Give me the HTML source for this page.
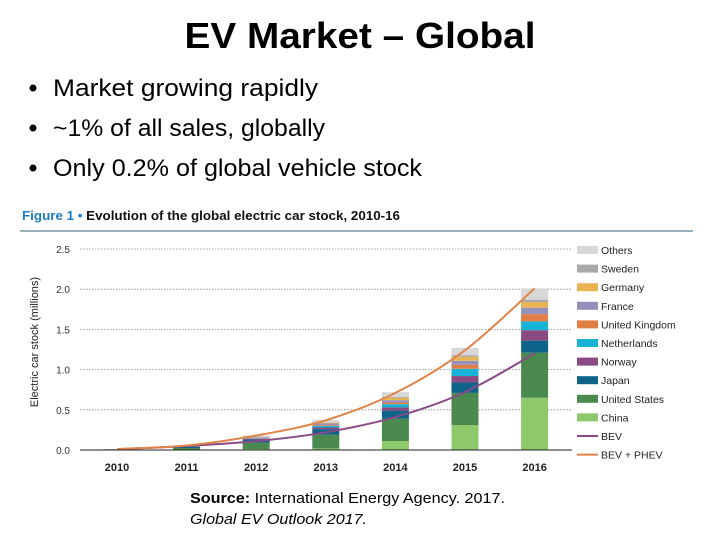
<!DOCTYPE html>
<html><head><meta charset="utf-8"><style>
html,body{margin:0;padding:0;background:#fff;}
svg{display:block;font-family:"Liberation Sans",sans-serif;}
</style></head><body>
<svg id="page" width="720" height="540" viewBox="0 0 720 540">
<text x="360" y="48" text-anchor="middle" font-size="36" font-weight="bold" textLength="351" lengthAdjust="spacingAndGlyphs">EV Market – Global</text>
<g font-size="24" fill="#000">
<circle cx="33" cy="88" r="3.5"/><text x="53" y="96" textLength="265" lengthAdjust="spacingAndGlyphs">Market growing rapidly</text>
<circle cx="33" cy="128" r="3.5"/><text x="53" y="136" textLength="272" lengthAdjust="spacingAndGlyphs">~1% of all sales, globally</text>
<circle cx="33" cy="168" r="3.5"/><text x="53" y="176" textLength="369" lengthAdjust="spacingAndGlyphs">Only 0.2% of global vehicle stock</text>
</g>
<text x="22" y="220" font-size="13" font-weight="bold" textLength="378" lengthAdjust="spacingAndGlyphs"><tspan fill="#1f7cc0">Figure 1 •</tspan><tspan fill="#111"> Evolution of the global electric car stock, 2010-16</tspan></text>
<line x1="20" y1="231" x2="693" y2="231" stroke="#5f7f92" stroke-width="1.2"/>
<text transform="translate(38,342) rotate(-90)" text-anchor="middle" font-size="11" fill="#222">Electric car stock (millions)</text>
<g id="grid"></g><g id="bars"></g><g id="lines"></g><g id="axes"></g><g id="legend"></g>
<text x="190" y="503" font-size="15" textLength="315" lengthAdjust="spacingAndGlyphs"><tspan font-weight="bold">Source:</tspan> International Energy Agency. 2017.</text>
<text x="190" y="524" font-size="15" font-style="italic" textLength="177" lengthAdjust="spacingAndGlyphs">Global EV Outlook 2017.</text>
</svg>
<script>
const years=["2010","2011","2012","2013","2014","2015","2016"];
const yTicks=[0,0.5,1,1.5,2,2.5];
const china=[0.002,0.005,0.01,0.02,0.11,0.31,0.65];
const us=[0.004,0.02,0.08,0.17,0.28,0.40,0.56];
const japan=[0.003,0.015,0.04,0.07,0.10,0.13,0.15];
const norway=[0.001,0.003,0.01,0.02,0.04,0.08,0.13];
const netherlands=[0,0.001,0.005,0.02,0.04,0.09,0.11];
const uk=[0,0.001,0.005,0.01,0.02,0.05,0.09];
const france=[0,0.003,0.01,0.02,0.03,0.05,0.08];
const germany=[0,0.002,0.005,0.01,0.03,0.05,0.07];
const sweden=[0,0.001,0.002,0.005,0.01,0.02,0.03];
const others=[0.002,0.005,0.015,0.03,0.06,0.09,0.14];
const bev=[0.01,0.05,0.11,0.22,0.41,0.72,1.2];
const bevPhev=[0.012,0.056,0.18,0.37,0.71,1.24,2.01];
const seriesNames=["China","United States","Japan","Norway","Netherlands","United Kingdom","France","Germany","Sweden","Others"];
const seriesData=[china,us,japan,norway,netherlands,uk,france,germany,sweden,others];
const colors=["#8dc86a","#4a8a4e","#0d6388","#8c4a82","#17b3d6","#e07e45","#9590bb","#e9b553","#a7a8aa","#d8d8d8"];
const NS="http://www.w3.org/2000/svg";
const x0=80,x1=572,yBase=450,yTop=249,yMax=2.5;
const y=v=>yBase-(v/yMax)*(yBase-yTop);
const step=69.6,xc=i=>117+i*step,bw=27;
function mk(t,a,p){const e=document.createElementNS(NS,t);for(const k in a)e.setAttribute(k,a[k]);p.appendChild(e);return e;}
const grid=document.getElementById('grid');
yTicks.forEach(t=>{
 if(t>0){const l=mk('line',{x1:x0,x2:x1,y1:y(t),y2:y(t),stroke:'#888','stroke-width':0.8,'stroke-dasharray':'1.5,1.5'},grid);
 
 }
 const tx=mk('text',{x:70,y:y(t)+4,'text-anchor':'end','font-size':10,fill:'#333'},grid);tx.textContent=t.toFixed(1);
 
 
});
const bars=document.getElementById('bars');
years.forEach((yr,i)=>{
 let acc=0;
 seriesData.forEach((s,k)=>{
  const v=s[i];if(v<=0)return;
  const r=mk('rect',{x:xc(i)-bw/2,y:y(acc+v),width:bw,height:y(acc)-y(acc+v),fill:colors[k]},bars);
  
  
  acc+=v;
 });
 const lb=mk('text',{x:xc(i),y:471,'text-anchor':'middle','font-size':11,'font-weight':'bold',fill:'#222'},bars);lb.textContent=yr;
 
 
});
function smooth(vals){
 const p=vals.map((v,i)=>[xc(i),y(v)]);let d='M'+p[0][0]+','+p[0][1];
 for(let i=0;i<p.length-1;i++){const a=p[i-1]||p[i],b=p[i],c=p[i+1],e=p[i+2]||c;
  d+=' C'+(b[0]+(c[0]-a[0])/6)+','+(b[1]+(c[1]-a[1])/6)+' '+(c[0]-(e[0]-b[0])/6)+','+(c[1]-(e[1]-b[1])/6)+' '+c[0]+','+c[1];}
 return d;}
const lines=document.getElementById('lines');
const lb1=mk('path',{d:smooth(bev),fill:'none',stroke:'#8a4a86','stroke-width':2},lines);


const lb2=mk('path',{d:smooth(bevPhev),fill:'none',stroke:'#e0844a','stroke-width':2},lines);


const axes=document.getElementById('axes');
const ax=mk('line',{x1:x0,x2:x1,y1:yBase,y2:yBase,stroke:'#222','stroke-width':1},axes);


const legend=document.getElementById('legend');
const legNames=["Others","Sweden","Germany","France","United Kingdom","Netherlands","Norway","Japan","United States","China","BEV","BEV + PHEV"];
legNames.forEach((n,j)=>{
 const cy=250+j*18.6;
 if(j<10){const k=9-j;const r=mk('rect',{x:577,y:cy-4,width:21,height:8,fill:colors[k]},legend);
  
  }
 else{const l=mk('line',{x1:577,x2:598,y1:cy,y2:cy,stroke:j==10?'#8a4a86':'#e0844a','stroke-width':2},legend);
  
  }
 const t=mk('text',{x:601,y:cy+4,'font-size':10.5,fill:'#222'},legend);t.textContent=n;
 
 
});
</script>
</body></html>
